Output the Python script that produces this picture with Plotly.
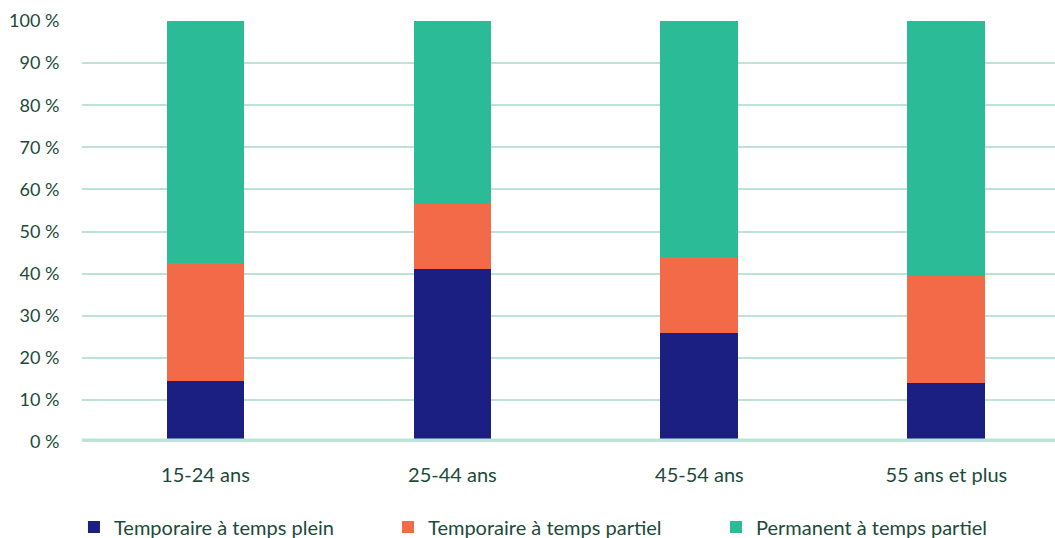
import plotly.graph_objects as go

# Age groups and share of each job type (percent of employment)
categories = ["15-24 ans", "25-44 ans", "45-54 ans", "55 ans et plus"]
temp_full = [14.5, 41.1, 26.0, 14.0]
temp_part = [28.0, 15.4, 17.9, 25.4]
perm_part = [57.5, 43.5, 56.1, 60.6]

series_names = ["Temporaire à temps plein", "Temporaire à temps partiel", "Permanent à temps partiel"]
tick_vals = [0, 10, 20, 30, 40, 50, 60, 70, 80, 90, 100]
tick_text = [f"{v} %" for v in tick_vals]

colors = ["#1b1f82", "#f26a47", "#2bbb96"]
text_color = "#1d4a3a"
grid_color = "#bde3d6"
font_family = "Lato, 'Open Sans', sans-serif"

# One legend box per series so each entry can sit at its own spot along the bottom
legend_ids = ["legend", "legend2", "legend3"]
legend_x = [0.0701, 0.3678, 0.6787]

fig = go.Figure()
for name, vals, col, lid in zip(series_names, [temp_full, temp_part, perm_part], colors, legend_ids):
    fig.add_trace(go.Bar(
        x=categories, y=vals, name=name,
        marker=dict(color=col, line=dict(width=0)),
        width=0.315,
        legend=lid,
    ))

legend_style = dict(
    orientation="h",
    xref="container", yref="container",
    xanchor="left",
    y=0.0204, yanchor="middle",
    font=dict(size=20, color=text_color),
    itemwidth=30,
    bgcolor="rgba(0,0,0,0)",
)

fig.update_layout(
    barmode="stack",
    width=1055, height=538,
    margin=dict(l=82, r=0, t=21, b=96, autoexpand=False),
    paper_bgcolor="white",
    plot_bgcolor="white",
    font=dict(family=font_family, size=19, color=text_color),
    xaxis=dict(
        range=[-0.5, 3.44],
        showgrid=False, showline=False, zeroline=False,
        ticks="", ticklabelstandoff=19,
        tickfont=dict(size=20, color=text_color),
    ),
    yaxis=dict(
        range=[0, 100],
        tickvals=tick_vals, ticktext=tick_text,
        showgrid=True, gridcolor=grid_color, gridwidth=2,
        zeroline=False, showline=False,
        ticks="outside", ticklen=18, tickcolor="rgba(0,0,0,0)",
        tickfont=dict(size=18, color=text_color),
    ),
    legend=dict(legend_style, x=legend_x[0]),
    legend2=dict(legend_style, x=legend_x[1]),
    legend3=dict(legend_style, x=legend_x[2]),
    bargap=0.685,
    showlegend=True,
)

# Thick baseline along the 0 % level
fig.add_shape(
    type="line", xref="paper", x0=0, x1=1, yref="y", y0=0, y1=0,
    line=dict(color=grid_color, width=7), layer="above",
)

fig.write_html("out.html")
